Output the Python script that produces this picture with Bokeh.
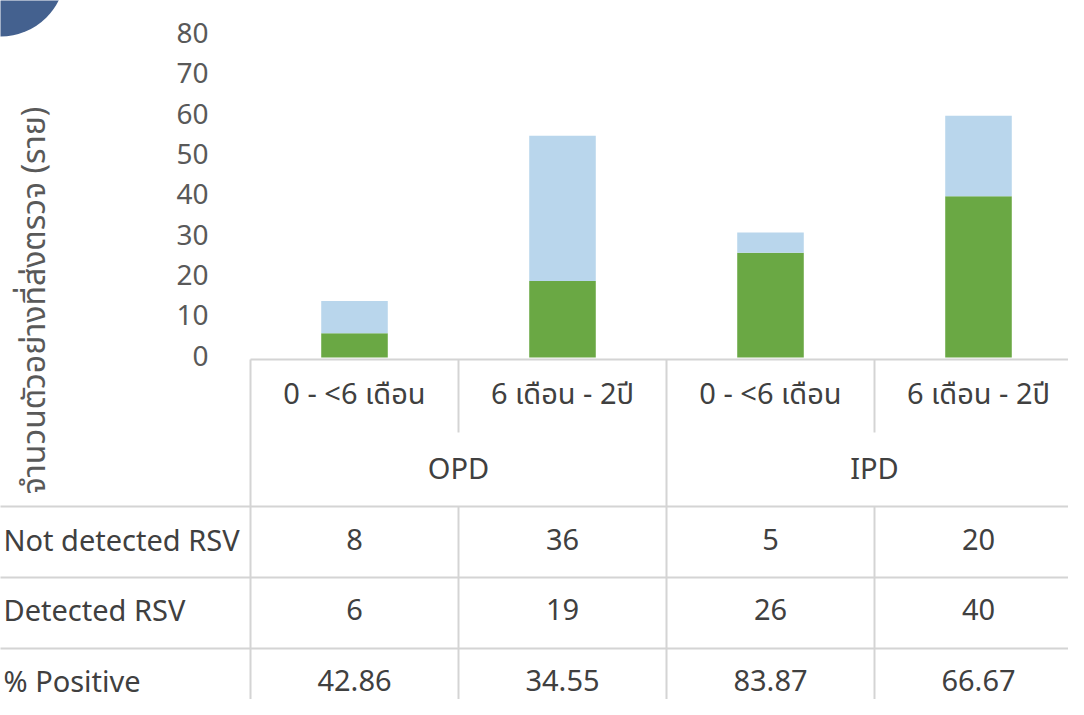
import math
from bokeh.plotting import figure
from bokeh.models import Range1d, ColumnDataSource
from bokeh.core.properties import value
from bokeh.embed import file_html
from bokeh.resources import INLINE

# ---------------- data ----------------
subcategories = ["0 - <6 เดือน", "6 เดือน - 2ปี", "0 - <6 เดือน", "6 เดือน - 2ปี"]
groups = ["OPD", "IPD"]
not_detected = [8, 36, 5, 20]
detected = [6, 19, 26, 40]
pct_positive = ["42.86", "34.55", "83.87", "66.67"]
row_labels = ["Not detected RSV", "Detected RSV", "% Positive"]
y_ticks = [0, 10, 20, 30, 40, 50, 60, 70, 80]
y_title = "จำนวนตัวอย่างที่ส่งตรวจ (ราย)"

# ---------------- layout helpers (picture pixels -> data units) ----------------
W, H = 1068, 699
COL0, COLW = 250, 208
ZERO_Y, PPU = 357, 4.03


def xd(px):
    return -0.5 + (px - COL0) / COLW


def yd(py):
    return (ZERO_Y - py) / PPU


FONT = value("Noto Sans, Noto Sans Thai, Loma, Garuda, Tahoma, sans-serif")
TXT = "#404040"
GREEN = "#6AA844"
BLUE = "#B9D6EC"
GRID = "#D4D4D4"

p = figure(width=W, height=H, output_backend="svg", toolbar_location=None,
           x_range=Range1d(xd(0), xd(W)),
           y_range=Range1d(yd(H), yd(0)),
           x_axis_location=None, y_axis_location=None,
           min_border=0, outline_line_color=None)
p.xgrid.visible = False
p.ygrid.visible = False
p.background_fill_color = "white"
p.border_fill_color = "white"

# decorative circle (top-left corner)
p.scatter(x=[xd(0)], y=[yd(-29)], size=130, marker="circle",
          fill_color="#44618F", line_color=None)

# ---------------- bars ----------------
n = len(subcategories)
xs = list(range(n))
totals = [d + nd for d, nd in zip(detected, not_detected)]
src = ColumnDataSource(dict(x=xs, det=detected, tot=totals))
p.vbar(x="x", bottom=0, top="det", width=0.32, source=src,
       fill_color=GREEN, line_color=None)
p.vbar(x="x", bottom="det", top="tot", width=0.32, source=src,
       fill_color=BLUE, line_color=None)

# ---------------- y tick labels ----------------
p.text(x=[xd(208)] * len(y_ticks), y=y_ticks, text=[str(t) for t in y_ticks],
       text_align="right", text_baseline="middle", y_offset=-2, text_font=FONT,
       text_font_size="28px", text_color="#595959")

# y title
p.text(x=[xd(32)], y=[yd(300)], text=[y_title], angle=math.pi / 2,
       text_align="center", text_baseline="middle", text_font=FONT,
       text_font_size="32px", text_color="#595959")

# ---------------- table grid ----------------
top_y, sub_y, head_y = yd(359), yd(432), yd(506)
row_bounds = [yd(506), yd(577), yd(648)]
bot_y = yd(720)
bounds_x = [i - 0.5 for i in range(n + 1)]
left_x = xd(-20)

x0s, y0s, x1s, y1s = [], [], [], []
x0s.append(bounds_x[0]); x1s.append(bounds_x[-1]); y0s.append(top_y); y1s.append(top_y)
for yb in row_bounds:
    x0s.append(left_x); x1s.append(bounds_x[-1]); y0s.append(yb); y1s.append(yb)
for i, bx in enumerate(bounds_x):
    if i in (1, 3):
        x0s += [bx, bx]; x1s += [bx, bx]
        y0s += [top_y, head_y]; y1s += [sub_y, bot_y]
    else:
        x0s.append(bx); x1s.append(bx); y0s.append(top_y); y1s.append(bot_y)
p.segment(x0=x0s, y0=y0s, x1=x1s, y1=y1s, line_color=GRID, line_width=2)

# ---------------- table text ----------------
FS = "29px"
p.text(x=xs, y=[yd(392)] * n, text=subcategories, text_align="center",
       text_baseline="middle", text_font=FONT, text_font_size=FS, text_color=TXT)
p.text(x=[0.5, 2.5], y=[yd(467)] * 2, text=groups, text_align="center",
       text_baseline="middle", text_font=FONT, text_font_size=FS, text_color=TXT)

row_y = [yd(539), yd(609), yd(680)]
rows = [[str(v) for v in not_detected], [str(v) for v in detected], pct_positive]
for ry, vals in zip(row_y, rows):
    p.text(x=xs, y=[ry] * n, text=vals, text_align="center",
           text_baseline="middle", text_font=FONT, text_font_size=FS, text_color=TXT)
p.text(x=[xd(3)] * 3, y=row_y, text=row_labels, text_align="left",
       text_baseline="middle", text_font=FONT, text_font_size=FS, text_color=TXT)

open("out.html", "w").write(file_html(p, INLINE))
